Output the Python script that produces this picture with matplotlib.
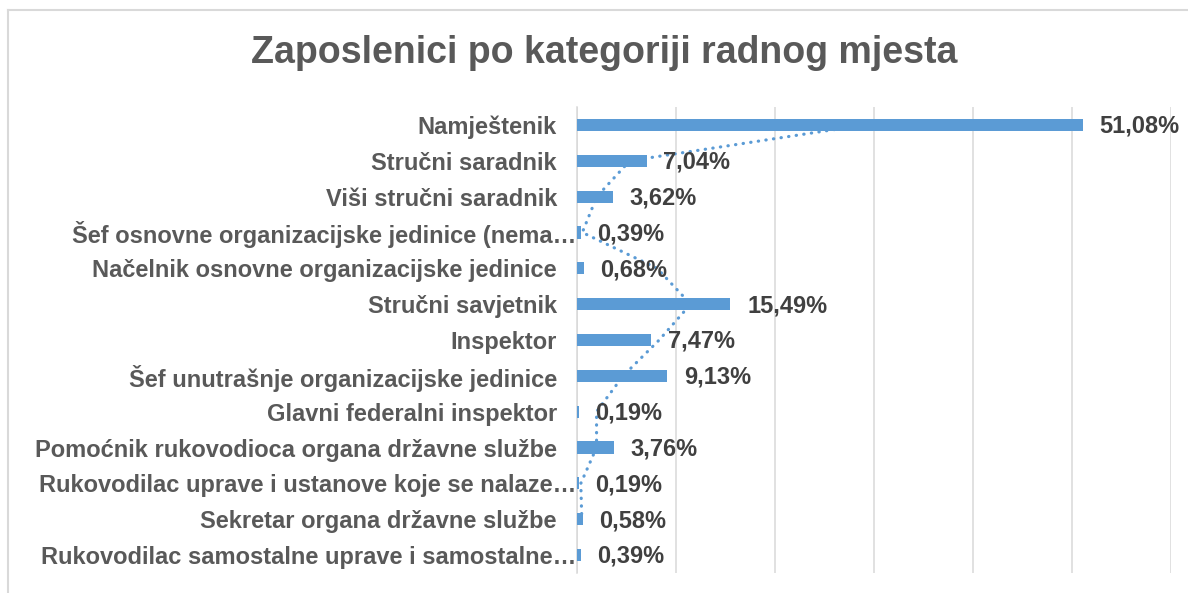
import numpy as np
import matplotlib.pyplot as plt
from matplotlib.lines import Line2D

categories = [
    'Namještenik',
    'Stručni saradnik',
    'Viši stručni saradnik',
    'Šef osnovne organizacijske jedinice (nema…',
    'Načelnik osnovne organizacijske jedinice',
    'Stručni savjetnik',
    'Inspektor',
    'Šef unutrašnje organizacijske jedinice',
    'Glavni federalni inspektor',
    'Pomoćnik rukovodioca organa državne službe',
    'Rukovodilac uprave i ustanove koje se nalaze…',
    'Sekretar organa državne službe',
    'Rukovodilac samostalne uprave i samostalne…',
]
values = [51.08, 7.04, 3.62, 0.39, 0.68, 15.49, 7.47, 9.13, 0.19, 3.76, 0.19, 0.58, 0.39]

title = 'Zaposlenici po kategoriji radnog mjesta'
bar_color = '#5B9BD5'
grid_color = '#D9D9D9'

plt.rcParams['font.family'] = ['Liberation Sans', 'DejaVu Sans']

W, H = 1188, 593
fig = plt.figure(figsize=(W / 100, H / 100), dpi=100)
ax = fig.add_axes([577 / W, 1 - 573 / H, 594 / W, 466 / H])

y = np.arange(len(categories))
ax.barh(y, values, height=0.34, color=bar_color, zorder=3)

# moving average (period 2) trendline, Excel order runs bottom-up
ma = [(values[i] + values[i + 1]) / 2 for i in range(len(values) - 1)]
ax.plot(ma, y[:-1], linestyle=(0, (0.1, 2.3)), lw=2.3, color=bar_color,
        dash_capstyle='round', zorder=2)

ax.set_xlim(0, 60)
ax.set_ylim(len(categories) - 0.5, -0.5)
ax.set_xticks(np.arange(0, 61, 10))
ax.set_yticks(y)
ax.xaxis.grid(True, color=grid_color, lw=1.1)
ax.set_axisbelow(True)
ax.tick_params(axis='both', length=0, labelbottom=False, labelleft=False)
for s in ['top', 'right', 'bottom']:
    ax.spines[s].set_visible(False)
ax.spines['left'].set_color(grid_color)
ax.spines['left'].set_linewidth(1.1)

# category labels; truncated ones sit closer to the axis
for cat, yi in zip(categories, y):
    dx = -0.5 if cat.endswith('…') else -14.4
    ax.annotate(cat, (0, yi), xycoords=ax.get_yaxis_transform(), xytext=(dx, 0),
                textcoords='offset points', ha='right', va='center_baseline',
                fontsize=17, fontweight='bold', color='#595959',
                annotation_clip=False)

for v, yi in zip(values, y):
    ax.annotate(f'{v:.2f}%'.replace('.', ','), (v, yi), xytext=(12, -1),
                textcoords='offset points', ha='left', va='center',
                fontsize=17, fontweight='bold', color='#404040',
                annotation_clip=False, zorder=4)

fig.text(604 / W, 1 - 53 / H, title, ha='center', va='center',
         fontsize=27, fontweight='bold', color='#595959')

# chart frame (left and top edges visible)
fig.add_artist(Line2D([8 / W, 8 / W], [0, 1 - 10 / H], transform=fig.transFigure,
                      color=grid_color, lw=1.5))
fig.add_artist(Line2D([8 / W, 1], [1 - 10 / H, 1 - 10 / H], transform=fig.transFigure,
                      color=grid_color, lw=1.5))

fig.savefig('out.png', dpi=100)
